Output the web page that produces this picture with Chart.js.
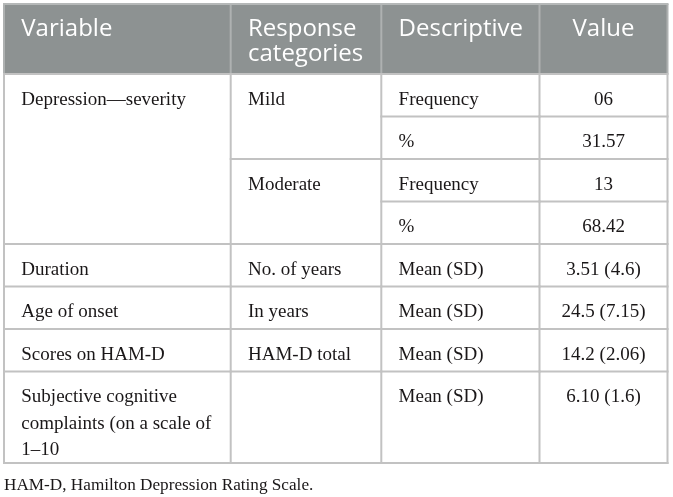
<!DOCTYPE html>
<html><head><meta charset="utf-8">
<script src="https://cdn.jsdelivr.net/npm/chart.js@4.4.1/dist/chart.umd.min.js"></script>
<style>html,body{margin:0;padding:0;background:#fff;}#wrap{width:673px;height:497px;position:relative;}</style>
</head><body><div id="wrap"><canvas id="c"></canvas></div>
<script>
// ---- table content ----
const headers = ["Variable", ["Response", "categories"], "Descriptive", "Value"];
const variables = ["Depression\u2014severity", "Duration", "Age of onset", "Scores on HAM-D",
  ["Subjective cognitive", "complaints (on a scale of", "1\u201310"]];
const variableSpans = [4, 1, 1, 1, 1];
const categories = ["Mild", "Moderate", "No. of years", "In years", "HAM-D total", ""];
const categorySpans = [2, 2, 1, 1, 1, 1];
const descriptives = ["Frequency", "%", "Frequency", "%", "Mean (SD)", "Mean (SD)", "Mean (SD)", "Mean (SD)"];
const values = ["06", "31.57", "13", "68.42", "3.51 (4.6)", "24.5 (7.15)", "14.2 (2.06)", "6.10 (1.6)"];
const footnote = "HAM-D, Hamilton Depression Rating Scale.";

// ---- layout (table units) ----
const colWidths = [226.7, 150.6, 158.2, 128];
const headerHeight = 70;
const rowHeights = [42.5, 42.5, 42.5, 42.5, 42.5, 42.5, 42.5, 91.5];
const padLeft = 17.3;
const bodyBaseline = 30.6, bodyLineH = 26.5;
const headBaseline = 32, headLineH = 25;
const bodyFont = '19px "Liberation Serif", "Times New Roman", serif';
const headFont = '24px "Open Sans", "Noto Sans", sans-serif';

const colEdges = [0];
colWidths.forEach(w => colEdges.push(colEdges[colEdges.length - 1] + w));
const rowEdges = [0, headerHeight];
rowHeights.forEach(h => rowEdges.push(rowEdges[rowEdges.length - 1] + h));
const totalW = colEdges[colEdges.length - 1];
const totalH = rowEdges[rowEdges.length - 1];

function spanStarts(spans) { const s = []; let r = 0; spans.forEach(n => { s.push(r); r += n; }); return s; }
const varStarts = spanStarts(variableSpans);
const catStarts = spanStarts(categorySpans);
const allStarts = rowHeights.map((_, i) => i);

function anchors(col, texts, starts, align) {
  return texts.map((t, i) => ({
    x: align === 'center' ? (colEdges[col] + colEdges[col + 1]) / 2 : colEdges[col] + padLeft,
    y: rowEdges[1 + starts[i]] + bodyBaseline,
    text: t, align: align
  }));
}
const headAnchors = headers.map((t, c) => ({
  x: c === 3 ? (colEdges[c] + colEdges[c + 1]) / 2 : colEdges[c] + padLeft,
  y: headBaseline, text: t, align: c === 3 ? 'center' : 'left'
}));
const columns = [
  { anchors: headAnchors, font: headFont, color: '#ffffff', lh: headLineH },
  { anchors: anchors(0, variables, varStarts, 'left'), font: bodyFont, color: '#1a1718', lh: bodyLineH },
  { anchors: anchors(1, categories, catStarts, 'left'), font: bodyFont, color: '#1a1718', lh: bodyLineH },
  { anchors: anchors(2, descriptives, allStarts, 'left'), font: bodyFont, color: '#1a1718', lh: bodyLineH },
  { anchors: anchors(3, values, allStarts, 'center'), font: bodyFont, color: '#1a1718', lh: bodyLineH }
];
const colBreaks = [varStarts, catStarts, allStarts, allStarts];

const gridPlugin = {
  id: 'tableGrid',
  beforeDatasetsDraw(chart) {
    const { ctx, scales: { x, y } } = chart;
    const X = v => x.getPixelForValue(v), Y = v => y.getPixelForValue(v);
    ctx.save();
    ctx.fillStyle = '#8d9292';
    ctx.fillRect(X(0), Y(0), X(totalW) - X(0), Y(headerHeight) - Y(0));
    ctx.lineWidth = 2;
    ctx.strokeStyle = '#aeb1b1';
    colEdges.forEach(e => { ctx.beginPath(); ctx.moveTo(X(e), Y(0)); ctx.lineTo(X(e), Y(headerHeight)); ctx.stroke(); });
    ctx.strokeStyle = '#b5b8b8';
    ctx.beginPath(); ctx.moveTo(X(0) - 1, Y(0)); ctx.lineTo(X(totalW) + 1, Y(0)); ctx.stroke();
    ctx.strokeStyle = '#c2c2c2';
    colEdges.forEach(e => { ctx.beginPath(); ctx.moveTo(X(e), Y(headerHeight)); ctx.lineTo(X(e), Y(totalH) + 1); ctx.stroke(); });
    colBreaks.forEach((starts, c) => {
      const lines = starts.map(r => rowEdges[1 + r]).concat([totalH]);
      lines.forEach(v => {
        ctx.beginPath(); ctx.moveTo(X(colEdges[c]) - 1, Y(v)); ctx.lineTo(X(colEdges[c + 1]) + 1, Y(v)); ctx.stroke();
      });
    });
    ctx.restore();
  }
};
const textPlugin = {
  id: 'cellText',
  afterDatasetsDraw(chart) {
    const { ctx } = chart;
    const y = chart.scales.y;
    const unit = Math.abs(y.getPixelForValue(1) - y.getPixelForValue(0));
    ctx.save();
    ctx.textBaseline = 'alphabetic';
    chart.data.datasets.forEach((ds, di) => {
      const meta = chart.getDatasetMeta(di);
      const col = columns[di];
      ctx.font = col.font; ctx.fillStyle = col.color;
      meta.data.forEach((el, i) => {
        const a = col.anchors[i];
        const lines = Array.isArray(a.text) ? a.text : [a.text];
        ctx.textAlign = a.align;
        lines.forEach((ln, k) => ctx.fillText(ln, el.x, el.y + k * col.lh * unit));
      });
    });
    ctx.restore();
  }
};

new Chart(document.getElementById('c'), {
  type: 'scatter',
  data: {
    datasets: columns.map((col, i) => ({
      label: 'col' + i,
      data: col.anchors.map(a => ({ x: a.x, y: a.y })),
      pointRadius: 0, pointHoverRadius: 0, showLine: false
    }))
  },
  options: {
    responsive: true, maintainAspectRatio: false, animation: false,
    events: [],
    layout: { padding: { left: 4, right: 5.5, top: 4, bottom: 0 } },
    scales: {
      x: { type: 'linear', min: 0, max: totalW, display: false },
      y: { type: 'linear', min: 0, max: totalH, reverse: true, display: false }
    },
    plugins: {
      legend: { display: false },
      tooltip: { enabled: false },
      title: {
        display: true, text: footnote, position: 'bottom', align: 'start',
        color: '#1a1718', font: { family: '"Liberation Serif", serif', size: 17.2, weight: 'normal', lineHeight: 1.2 },
        padding: { top: 12, bottom: 1.4 }
      }
    }
  },
  plugins: [gridPlugin, textPlugin]
});
</script>
</body></html>
